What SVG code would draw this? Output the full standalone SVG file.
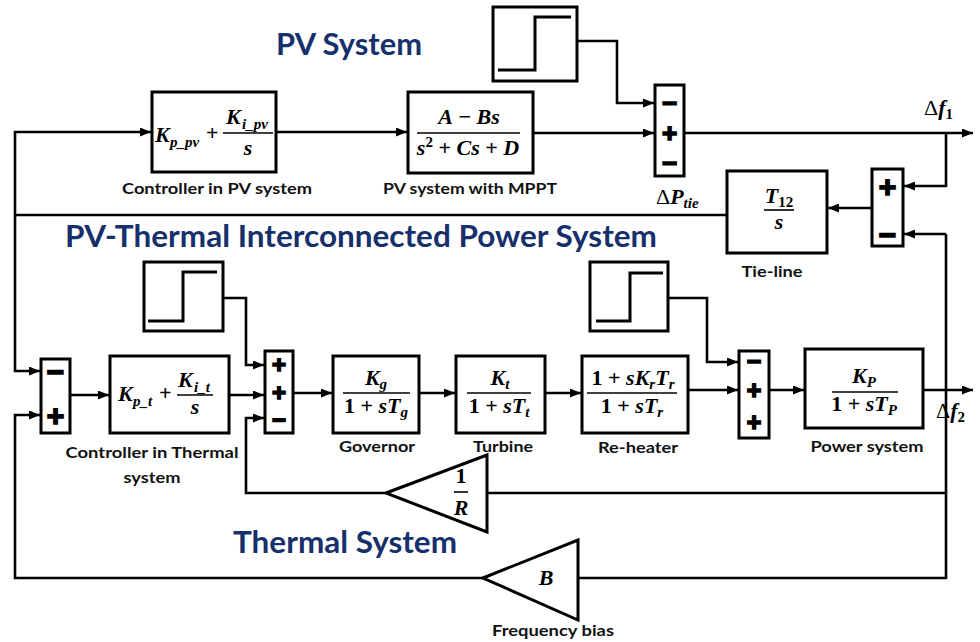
<svg xmlns="http://www.w3.org/2000/svg" width="980" height="642" viewBox="0 0 980 642">
<defs>
<marker id="ar" markerUnits="userSpaceOnUse" markerWidth="11" markerHeight="9" refX="11" refY="4.5" orient="auto">
<path d="M0,0 L11,4.5 L0,9 z" fill="#000"/>
</marker>
<style>
.bx{fill:#fff;stroke:#000;stroke-width:3}
.ln{fill:none;stroke:#000;stroke-width:2.6}
.ar{fill:none;stroke:#000;stroke-width:2.6;marker-end:url(#ar)}
.stp{fill:none;stroke:#000;stroke-width:3}
.tri{fill:#fff;stroke:#000;stroke-width:3}
.ttl{font-family:Lato,"Liberation Sans",sans-serif;font-weight:bold;font-size:30px;fill:#16306c}
.lb{font-family:Lato,"Liberation Sans",sans-serif;font-weight:bold;font-size:16px;fill:#111}
.sg{font-family:"Liberation Sans",Arial,sans-serif;font-weight:bold;text-anchor:middle;fill:#000;stroke:#000;stroke-width:1.6}
.v{font-family:"Liberation Serif",serif;font-weight:bold;font-style:italic;font-size:22px}
.d{font-family:"Liberation Serif",serif;font-weight:bold;font-style:normal;font-size:22px}
.o{font-family:"Liberation Serif",serif;font-weight:bold;font-style:normal;font-size:22px}
.s{font-family:"Liberation Serif",serif;font-weight:bold;font-style:italic;font-size:15px}
.sd{font-family:"Liberation Serif",serif;font-weight:bold;font-style:normal;font-size:15px}
.fl{stroke:#000;stroke-width:1.6}
</style>
</defs>
<rect width="980" height="642" fill="#fff"/>

<!-- titles -->
<text class="ttl" x="276" y="55" textLength="146" lengthAdjust="spacingAndGlyphs">PV System</text>
<text class="ttl" x="65" y="247" textLength="592" lengthAdjust="spacingAndGlyphs">PV-Thermal Interconnected Power System</text>
<text class="ttl" x="233" y="553" textLength="224" lengthAdjust="spacingAndGlyphs">Thermal System</text>

<!-- connectors -->
<g id="connectors">
<path class="ar" d="M15,215 V132 H151"/>
<path class="ln" d="M727,215 H15"/>
<path class="ar" d="M15,215 V371 H40"/>
<path class="ar" d="M276,132 H407"/>
<path class="ar" d="M533,133 H654"/>
<path class="ar" d="M577,41 H617 V103 H654"/>
<path class="ar" d="M684,133 H973"/>
<path class="ar" d="M946,133 V186 H904"/>
<path class="ar" d="M946,234 H904"/>
<path class="ln" d="M946,234 V578 H578"/>
<path class="ln" d="M946,493 H487"/>
<path class="ar" d="M872,208 H828"/>
<path class="ar" d="M70,395 H109"/>
<path class="ar" d="M229,395 H264"/>
<path class="ar" d="M223,298 H246 V365 H264"/>
<path class="ar" d="M386,493 H246 V418 H264"/>
<path class="ar" d="M483,578 H15 V415 H40"/>
<path class="ar" d="M293,393 H332"/>
<path class="ar" d="M419,393 H455"/>
<path class="ar" d="M545,393 H581"/>
<path class="ar" d="M688,390 H738"/>
<path class="ar" d="M668,298 H707 V362 H738"/>
<path class="ar" d="M769,390 H804"/>
<path class="ar" d="M923,390 H973"/>
</g>

<!-- PV controller -->
<g id="pv_controller">
<rect class="bx" x="152" y="92" width="124" height="80"/>
<text class="v" x="155" y="142">K</text>
<text class="s" x="170" y="147">p_pv</text>
<text class="o" x="206" y="140">+</text>
<text class="v" x="226" y="124">K</text>
<text class="s" x="242" y="129">i_pv</text>
<line class="fl" x1="223" y1="133" x2="273" y2="133"/>
<text class="v" x="248" y="155" text-anchor="middle">s</text>
<text class="lb" x="217" y="194" text-anchor="middle" textLength="190" lengthAdjust="spacingAndGlyphs">Controller in PV system</text>
</g>

<!-- PV system with MPPT -->
<g id="pv_mppt">
<rect class="bx" x="408" y="92" width="125" height="81"/>
<text x="469" y="124" text-anchor="middle"><tspan class="v">A</tspan><tspan class="o"> − </tspan><tspan class="v">Bs</tspan></text>
<line class="fl" x1="417" y1="133" x2="520" y2="133"/>
<text x="468" y="155" text-anchor="middle"><tspan class="v">s</tspan><tspan class="sd" dy="-8">2</tspan><tspan class="o" dy="8"> + </tspan><tspan class="v">Cs</tspan><tspan class="o"> + </tspan><tspan class="v">D</tspan></text>
<text class="lb" x="470" y="194" text-anchor="middle" textLength="174" lengthAdjust="spacingAndGlyphs">PV system with MPPT</text>
</g>

<!-- step 1 -->
<g id="step_pv">
<rect class="bx" x="493" y="7" width="84" height="74"/>
<path class="stp" d="M498,70 H535 V17 H571"/>
</g>

<!-- PV sum -->
<g id="sum_pv">
<rect class="bx" x="655" y="85" width="29" height="91"/>
<text class="sg" style="font-size:26px"><tspan x="669.5" y="112">−</tspan><tspan x="669.5" y="142">+</tspan><tspan x="669.5" y="172">−</tspan></text>
</g>

<!-- output labels -->
<g id="df1">
<text x="924" y="115"><tspan class="o" style="font-weight:normal">Δ</tspan><tspan class="v">f</tspan><tspan class="sd" dy="4">1</tspan></text>
</g>
<g id="dptie">
<text x="656" y="204"><tspan class="o" style="font-weight:normal">Δ</tspan><tspan class="v">P</tspan><tspan class="s" dy="4">tie</tspan></text>
</g>
<g id="df2">
<text x="936" y="418"><tspan class="o" style="font-weight:normal">Δ</tspan><tspan class="v">f</tspan><tspan class="sd" dy="4">2</tspan></text>
</g>

<!-- Tie-line -->
<g id="tie_line">
<rect class="bx" x="727" y="171" width="100" height="82"/>
<text x="779" y="203" text-anchor="middle"><tspan class="v">T</tspan><tspan class="sd" dy="4">12</tspan></text>
<line class="fl" x1="764" y1="210" x2="794" y2="210"/>
<text class="v" x="779" y="229" text-anchor="middle">s</text>
<text class="lb" x="772" y="277" text-anchor="middle" textLength="61" lengthAdjust="spacingAndGlyphs">Tie-line</text>
</g>

<!-- tie sum -->
<g id="sum_tie">
<rect class="bx" x="872" y="169" width="31" height="77"/>
<text class="sg" style="font-size:30px"><tspan x="887.5" y="196.5">+</tspan><tspan x="887.5" y="244.5">−</tspan></text>
</g>

<!-- step 2 -->
<g id="step_thermal">
<rect class="bx" x="144" y="262" width="79" height="69"/>
<path class="stp" d="M148,321 H183 V272 H217"/>
</g>

<!-- step 3 -->
<g id="step_load">
<rect class="bx" x="590" y="262" width="78" height="69"/>
<path class="stp" d="M596,321 H630 V273 H663"/>
</g>

<!-- thermal sum 1 -->
<g id="sum_ace">
<rect class="bx" x="41" y="359" width="29" height="74"/>
<text class="sg" style="font-size:30px"><tspan x="55.5" y="381.5">−</tspan><tspan x="55.5" y="425.5">+</tspan></text>
</g>

<!-- thermal controller -->
<g id="thermal_controller">
<rect class="bx" x="110" y="356" width="119" height="77"/>
<text class="v" x="118" y="401">K</text>
<text class="s" x="133" y="406">p_t</text>
<text class="o" x="159" y="400">+</text>
<text class="v" x="178" y="387">K</text>
<text class="s" x="194" y="392">i_t</text>
<line class="fl" x1="177" y1="395" x2="213" y2="395"/>
<text class="v" x="195" y="414" text-anchor="middle">s</text>
<text class="lb" x="152" y="458" text-anchor="middle" textLength="173" lengthAdjust="spacingAndGlyphs">Controller in Thermal</text>
<text class="lb" x="152" y="483" text-anchor="middle" textLength="57" lengthAdjust="spacingAndGlyphs">system</text>
</g>

<!-- thermal sum 2 -->
<g id="sum_gov">
<rect class="bx" x="265" y="351" width="28" height="82"/>
<text class="sg" style="font-size:24px"><tspan x="279" y="372.5">+</tspan><tspan x="279" y="400.5">+</tspan><tspan x="279" y="428">−</tspan></text>
</g>

<!-- governor -->
<g id="governor">
<rect class="bx" x="333" y="356" width="86" height="77"/>
<text x="376" y="385" text-anchor="middle"><tspan class="v">K</tspan><tspan class="s" dy="4">g</tspan></text>
<line class="fl" x1="343" y1="393" x2="410" y2="393"/>
<text x="376" y="413" text-anchor="middle"><tspan class="d">1</tspan><tspan class="o"> + </tspan><tspan class="v">sT</tspan><tspan class="s" dy="4">g</tspan></text>
<text class="lb" x="377" y="452" text-anchor="middle" textLength="76" lengthAdjust="spacingAndGlyphs">Governor</text>
</g>

<!-- turbine -->
<g id="turbine">
<rect class="bx" x="456" y="356" width="89" height="77"/>
<text x="500" y="385" text-anchor="middle"><tspan class="v">K</tspan><tspan class="s" dy="4">t</tspan></text>
<line class="fl" x1="467" y1="393" x2="531" y2="393"/>
<text x="499" y="413" text-anchor="middle"><tspan class="d">1</tspan><tspan class="o"> + </tspan><tspan class="v">sT</tspan><tspan class="s" dy="4">t</tspan></text>
<text class="lb" x="503" y="452" text-anchor="middle" textLength="60" lengthAdjust="spacingAndGlyphs">Turbine</text>
</g>

<!-- reheater -->
<g id="reheater">
<rect class="bx" x="582" y="356" width="106" height="77"/>
<text x="633" y="385" text-anchor="middle"><tspan class="d">1</tspan><tspan class="o"> + </tspan><tspan class="v">sK</tspan><tspan class="s" dy="4">r</tspan><tspan class="v" dy="-4">T</tspan><tspan class="s" dy="4">r</tspan></text>
<line class="fl" x1="587" y1="393" x2="677" y2="393"/>
<text x="632" y="413" text-anchor="middle"><tspan class="d">1</tspan><tspan class="o"> + </tspan><tspan class="v">sT</tspan><tspan class="s" dy="4">r</tspan></text>
<text class="lb" x="638" y="453" text-anchor="middle" textLength="80" lengthAdjust="spacingAndGlyphs">Re-heater</text>
</g>

<!-- load sum -->
<g id="sum_load">
<rect class="bx" x="739" y="351" width="30" height="87"/>
<text class="sg" style="font-size:25px"><tspan x="754" y="370">−</tspan><tspan x="754" y="399">+</tspan><tspan x="754" y="431">+</tspan></text>
</g>

<!-- power system -->
<g id="power_system">
<rect class="bx" x="805" y="349" width="118" height="79"/>
<text x="864" y="383" text-anchor="middle"><tspan class="v">K</tspan><tspan class="s" dy="4">P</tspan></text>
<line class="fl" x1="832" y1="392" x2="898" y2="392"/>
<text x="864" y="411" text-anchor="middle"><tspan class="d">1</tspan><tspan class="o"> + </tspan><tspan class="v">sT</tspan><tspan class="s" dy="4">P</tspan></text>
<text class="lb" x="867" y="452" text-anchor="middle" textLength="113" lengthAdjust="spacingAndGlyphs">Power system</text>
</g>

<!-- 1/R -->
<g id="droop">
<polygon class="tri" points="386,493 487,455 487,532"/>
<text class="d" x="461" y="483" text-anchor="middle">1</text>
<line class="fl" x1="454" y1="492" x2="468" y2="492"/>
<text class="v" x="461" y="515" text-anchor="middle">R</text>
</g>

<!-- B -->
<g id="freq_bias">
<polygon class="tri" points="483,578 578,540 578,620"/>
<text class="v" x="546" y="585" text-anchor="middle">B</text>
<text class="lb" x="553" y="636" text-anchor="middle" textLength="122" lengthAdjust="spacingAndGlyphs">Frequency bias</text>
</g>
</svg>
